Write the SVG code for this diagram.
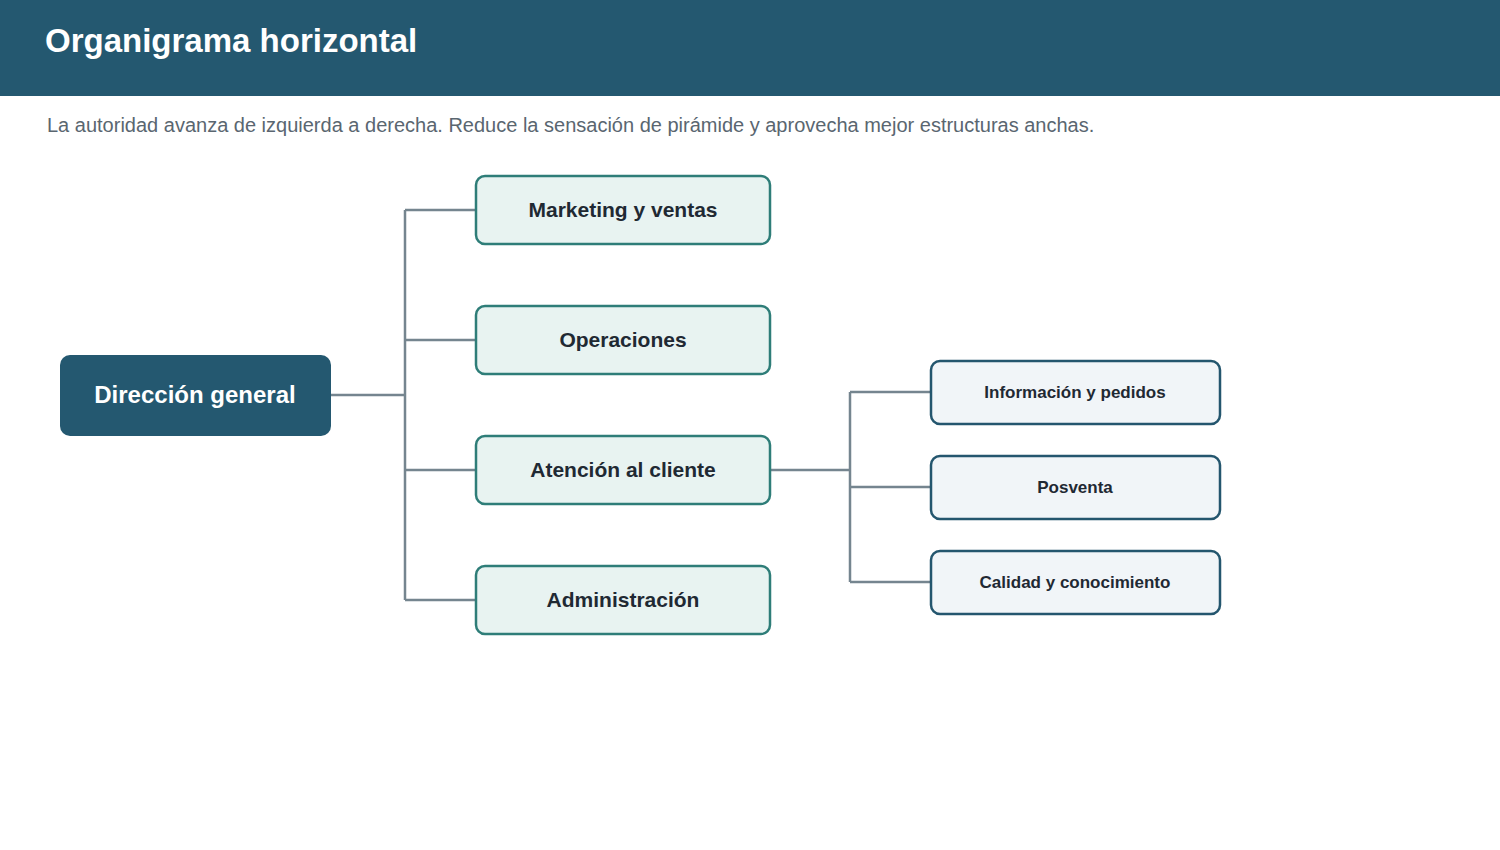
<svg xmlns="http://www.w3.org/2000/svg" width="1500" height="850" viewBox="0 0 1500 850">
<style>
text{font-family:"Liberation Sans",Arial,sans-serif;}
.l2 rect{fill:#e8f3f1;stroke:#2e7d78;stroke-width:2.5}
.l2 text{font-size:21px;font-weight:bold;fill:#1f2933;text-anchor:middle}
.l3 rect{fill:#f1f5f8;stroke:#24566e;stroke-width:2.5}
.l3 text{font-size:17px;font-weight:bold;fill:#1f2933;text-anchor:middle}
.c path{fill:none;stroke:#75858f;stroke-width:2.5}
</style>
<rect x="0" y="0" width="1500" height="96" fill="#245870"/>
<text x="45" y="52" font-size="33" font-weight="bold" fill="#fff">Organigrama horizontal</text>
<text x="47" y="132" font-size="20" fill="#5a6670">La autoridad avanza de izquierda a derecha. Reduce la sensación de pirámide y aprovecha mejor estructuras anchas.</text>
<g class="c" id="connectors">
<path d="M331 395H405M405 210V600M405 210H476M405 340H476M405 470H476M405 600H476"/>
<path d="M770 470H850M850 392V582M850 392H931M850 487H931M850 582H931"/>
</g>
<g id="n-dir"><rect x="60" y="355" width="271" height="81" rx="10" fill="#245870"/><text x="195" y="403" font-size="24" font-weight="bold" fill="#fff" text-anchor="middle">Dirección general</text></g>
<g class="l2" id="n-mkt"><rect x="476" y="176" width="294" height="68" rx="9"/><text x="623" y="217">Marketing y ventas</text></g>
<g class="l2" id="n-op"><rect x="476" y="306" width="294" height="68" rx="9"/><text x="623" y="347">Operaciones</text></g>
<g class="l2" id="n-at"><rect x="476" y="436" width="294" height="68" rx="9"/><text x="623" y="477">Atención al cliente</text></g>
<g class="l2" id="n-adm"><rect x="476" y="566" width="294" height="68" rx="9"/><text x="623" y="607">Administración</text></g>
<g class="l3" id="n-info"><rect x="931" y="361" width="289" height="63" rx="9"/><text x="1075" y="398">Información y pedidos</text></g>
<g class="l3" id="n-pos"><rect x="931" y="456" width="289" height="63" rx="9"/><text x="1075" y="493">Posventa</text></g>
<g class="l3" id="n-cal"><rect x="931" y="551" width="289" height="63" rx="9"/><text x="1075" y="588">Calidad y conocimiento</text></g>
</svg>
